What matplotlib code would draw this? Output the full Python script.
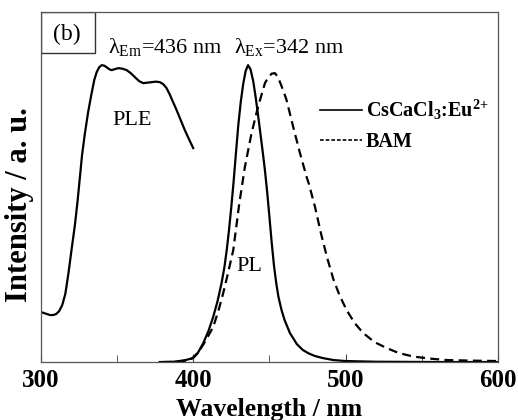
import matplotlib.pyplot as plt
from matplotlib.lines import Line2D
from matplotlib.patches import Rectangle

plt.rcParams['font.family'] = 'Liberation Serif'
plt.rcParams['mathtext.default'] = 'regular'

# PLE spectrum (lambda_em = 436 nm)
ple_wl = [300, 302, 304, 306, 308, 310, 312, 314, 316, 318, 320, 322.3, 324, 325.6,
          327, 328.9, 331, 333.3, 335, 336.6, 338.3, 339.9, 341.5, 343.1, 344.8, 346.4,
          348.5, 350.8, 353.5, 356.3, 359, 361.7, 364.5, 367.2, 370, 372.7, 375.5,
          378.1, 380.3, 382.5, 384.5, 386.8, 389.1, 391.8, 394.5, 397.2, 400]
ple_int = [50, 49, 48, 47, 47, 48, 51, 57, 68, 88, 111, 137, 160, 185,
           207, 229, 250, 269, 282, 290, 295, 297, 296.5, 295, 293, 292,
           293, 294, 293.5, 292, 289, 285, 281, 279, 279.5, 280, 280.5,
           280, 278, 274, 268, 260, 252, 242, 232, 223, 214]

# PL of CsCaCl3:Eu2+
pl_wl = [378, 385, 390, 395, 400, 403, 406.6, 410, 413.1, 416, 418.6, 420.5, 422, 423.5,
         425, 426.5, 428, 429.6, 431.2, 432.8, 434.4, 436, 437.6, 439.4, 441, 442.5,
         444, 445.5, 447, 448.5, 450, 451.5, 453, 454.5, 456, 458, 460, 463.5, 466,
         468, 472, 476, 480, 485, 492, 500, 520, 560, 600]
pl_int = [0, 0, 0.8, 2, 4, 9, 19, 31, 45, 61, 79, 95, 112, 132,
          155, 180, 208, 237, 260, 278, 291, 297, 293, 281, 265, 248,
          230, 212, 193, 171, 146, 120, 97, 79, 65, 52, 42, 29, 23,
          18, 12, 8.5, 6, 4, 2, 1, 0.3, 0, 0]

# PL of BAM reference
bam_wl = [380, 390, 395, 397.8, 401, 404.4, 408, 413.1, 416.5, 419.7, 423, 426.3, 430.2,
          433.9, 438.3, 442.5, 447.1, 449, 451.5, 453.6, 455.5, 457.5, 459.5, 461.3,
          465.7, 470.1, 474.5, 476, 480, 484, 488, 492, 496, 500.7, 506, 511.6, 519,
          527, 535, 544.5, 555, 566.4, 580, 600]
bam_int = [0, 0.5, 1, 2, 6, 12, 21, 35, 51, 69, 90, 112, 158,
           195, 229, 255, 279, 284, 288.5, 289, 285.5, 278, 270, 262,
           235, 209, 185, 178, 155, 128, 104, 83, 67, 52, 39, 29, 20,
           14, 9, 5.5, 3.5, 2, 1.5, 1]

fig = plt.figure(figsize=(5.18, 4.2), dpi=100)
ax = fig.add_axes([0.079, 0.138, 0.882, 0.833])

ax.plot(ple_wl, ple_int, color='k', lw=1.6)
ax.plot(pl_wl, pl_int, color='k', lw=1.6)
ax.plot(bam_wl, bam_int, color='k', lw=1.6, ls=(0, (4, 2.4)))

ax.set_xlim(300, 600)
ax.set_ylim(0, 350)
ax.set_xticks([300, 400, 500, 600])
ax.set_xticks([350, 450, 550], minor=True)
ax.set_yticks([])
ax.tick_params(axis='x', which='both', direction='in', labelsize=18, pad=5, color='#444444')
ax.tick_params(axis='x', which='major', length=6)
ax.tick_params(axis='x', which='minor', length=5)
for lab in ax.get_xticklabels():
    lab.set_fontweight('bold')
for sp in ax.spines.values():
    sp.set_color('#555555')
    sp.set_linewidth(0.9)

ax.set_xlabel('Wavelength / nm', fontsize=18.5, fontweight='bold')
ax.set_ylabel('Intensity / a. u.', fontsize=22, fontweight='bold')
ax.yaxis.set_label_coords(-0.016, 0.449)

# panel tag
ax.add_patch(Rectangle((0, 0.883), 0.118, 0.117, transform=ax.transAxes,
                       fill=False, lw=1.0, ec='#333333'))
ax.text(0.057, 0.935, '(b)', transform=ax.transAxes, fontsize=17, ha='center', va='center')

ax.text(344, 309, 'λ$_{Em}$=436 nm', fontsize=16, ha='left', va='baseline')
ax.text(426.7, 309, 'λ$_{Ex}$=342 nm', fontsize=16, ha='left', va='baseline')
ax.text(359.8, 242, 'PLE', fontsize=16, ha='center', va='center')
ax.text(436.6, 96, 'PL', fontsize=16, ha='center', va='center')

handles = [Line2D([], [], color='k', lw=1.2),
           Line2D([], [], color='k', lw=1.2, ls=(0, (2.2, 1.2)))]
ax.legend(handles, ['CsCaCl$_3$:Eu$^{2{+}}$', 'BAM'], loc='upper left',
          bbox_to_anchor=(0.61, 0.755), frameon=False,
          prop={'weight': 'bold', 'size': 14.5}, handlelength=2.1,
          handletextpad=0.2, labelspacing=0.5, borderpad=0, borderaxespad=0)

fig.savefig('out.png', dpi=100)
